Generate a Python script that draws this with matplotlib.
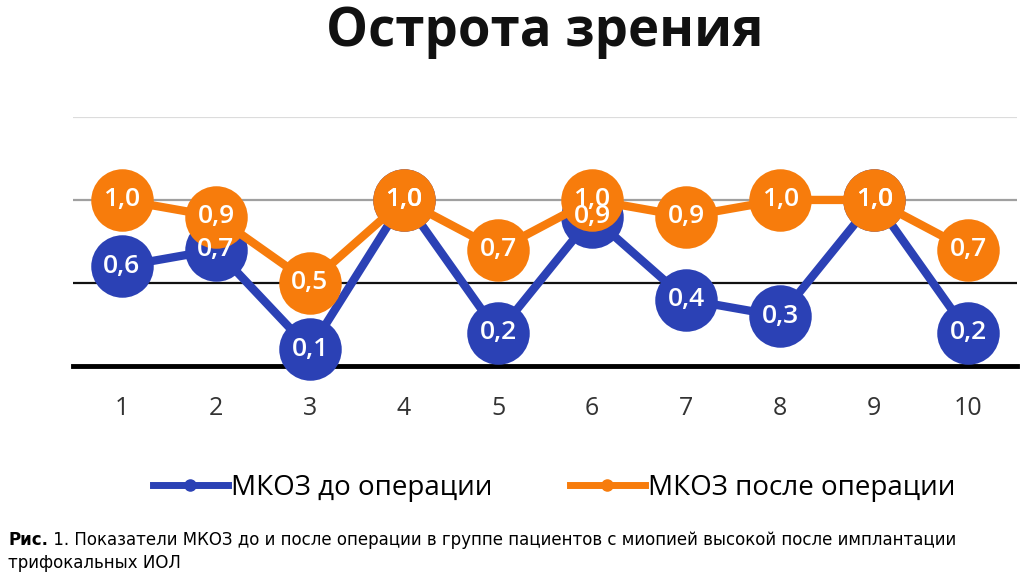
import matplotlib
matplotlib.use('Agg')
import matplotlib.pyplot as plt
from matplotlib.lines import Line2D

patients = [1, 2, 3, 4, 5, 6, 7, 8, 9, 10]
before = [0.6, 0.7, 0.1, 1.0, 0.2, 0.9, 0.4, 0.3, 1.0, 0.2]
after = [1.0, 0.9, 0.5, 1.0, 0.7, 1.0, 0.9, 1.0, 1.0, 0.7]
names = ['МКОЗ до операции', 'МКОЗ после операции']
title = 'Острота зрения'
caption_bold = 'Рис.'
caption_rest = ' 1. Показатели МКОЗ до и после операции в группе пациентов с миопией высокой после имплантации'
caption_line2 = 'трифокальных ИОЛ'

blue = '#2b41b5'
orange = '#f77c0c'
font = ['Open Sans', 'DejaVu Sans']

fig = plt.figure(figsize=(10.24, 5.79), dpi=100)
ax = fig.add_axes([0.0713, 0.368, 0.922, 0.430])
ax.set_xlim(0.48, 10.52)
ax.set_ylim(0, 1.5)

# horizontal grid lines, each with its own look
ax.axhline(1.5, color='#dcdcdc', lw=1.6, zorder=1)
ax.axhline(1.0, color='#a0a0a0', lw=1.6, zorder=1)
ax.axhline(0.5, color='#111111', lw=1.6, zorder=1)
ax.axhline(0.0, color='#000000', lw=3.5, zorder=1, clip_on=False)

ax.plot(patients, before, color=blue, lw=6, marker='o', ms=45,
        markeredgewidth=0, zorder=3, clip_on=False)
ax.plot(patients, after, color=orange, lw=6, marker='o', ms=45,
        markeredgewidth=0, zorder=4, clip_on=False)

for x, v in zip(patients, before):
    ax.text(x, v, f'{v:.1f}'.replace('.', ','), ha='center', va='center',
            color='white', fontsize=19, fontweight='semibold', family=font, zorder=6)
for x, v in zip(patients, after):
    ax.text(x, v, f'{v:.1f}'.replace('.', ','), ha='center', va='center',
            color='white', fontsize=19, fontweight='semibold', family=font, zorder=6)

ax.set_xticks(patients)
ax.set_xticklabels([str(p) for p in patients], fontsize=18, color='#333333', family=font)
ax.tick_params(axis='x', length=0, pad=22)
ax.set_yticks([])
for s in ax.spines.values():
    s.set_visible(False)

fig.text(0.532, 0.945, title, ha='center', va='center', fontsize=38,
         fontweight='bold', family=font, color='#111111')

handles = [Line2D([], [], color=blue, lw=5, marker='o', ms=8),
           Line2D([], [], color=orange, lw=5, marker='o', ms=8)]
fig.legend(handles, names, loc='center', bbox_to_anchor=(0.541, 0.158), ncol=2,
           frameon=False, handlelength=2.7, handletextpad=0.1, columnspacing=2.8,
           prop={'family': font, 'size': 20})

cap_font = ['DejaVu Sans']
t1 = fig.text(0.008, 0.067, caption_bold, fontsize=12, fontweight='bold',
              family=cap_font, va='center')
fig.canvas.draw()
bb = t1.get_window_extent()
fig.text(bb.x1 / fig.bbox.width, 0.067, caption_rest, fontsize=12,
         family=cap_font, va='center')
fig.text(0.008, 0.027, caption_line2, fontsize=12, family=cap_font, va='center')

fig.savefig('out.png', dpi=100)
